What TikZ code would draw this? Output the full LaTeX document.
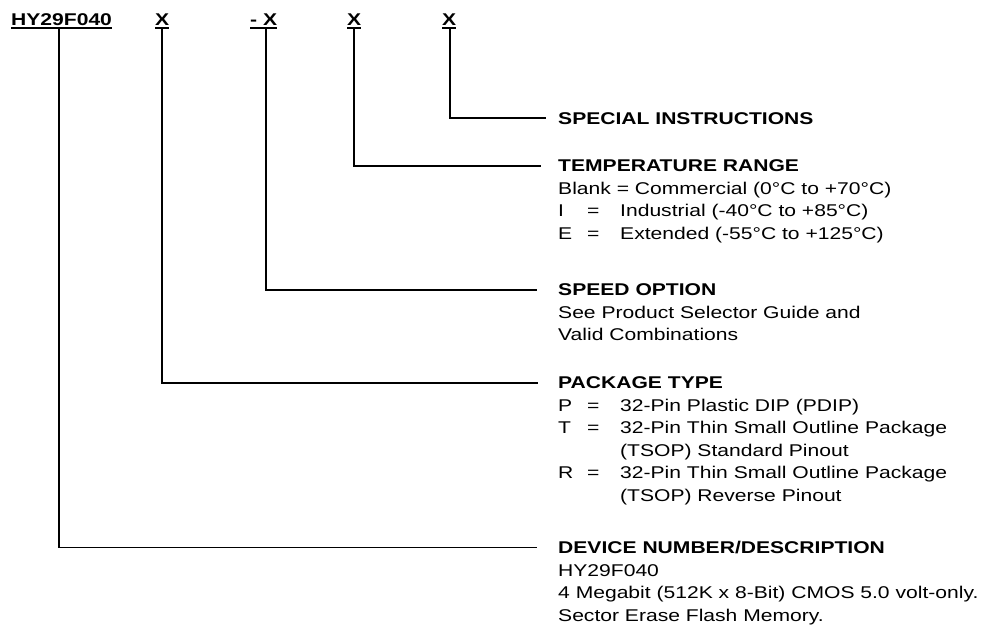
\documentclass[tikz,border=0pt]{standalone}
\usepackage{fontspec}
\setmainfont{Liberation Sans}[FakeStretch=1.24]
\begin{document}
\begin{tikzpicture}[x=1pt,y=-1pt,
  lbl/.style={anchor=base west,inner sep=0pt,font=\fontsize{17}{20}\selectfont\bfseries},
  hd/.style={anchor=base west,inner sep=0pt,font=\fontsize{17}{20}\selectfont\bfseries},
  bd/.style={anchor=base west,inner sep=0pt,font=\fontsize{17}{20}\selectfont},
  conn/.style={line width=1.8pt},
  ul/.style={line width=1.8pt}]
\useasboundingbox (0,0) rectangle (991,640);
% top code
\node[lbl] (hy) at (11,25) {HY29F040};
\node[lbl] (xa) at (155,25) {X};
\node[lbl] (xb) at (250,25) {- X};
\node[lbl] (xc) at (347,25) {X};
\node[lbl] (xd) at (442,25) {X};
\foreach \n in {hy,xa,xb,xc,xd}
  \draw[ul] ([yshift=-3pt]\n.base west) -- ([yshift=-3pt]\n.base east);
% headings
\node[hd] (sp) at (558,124) {SPECIAL INSTRUCTIONS};
\node[hd] (tr) at (558,171.5) {TEMPERATURE RANGE};
\node[hd] (so) at (558,295.5) {SPEED OPTION};
\node[hd] (pt) at (558,388.5) {PACKAGE TYPE};
\node[hd] (dn) at (558,553.5) {DEVICE NUMBER/DESCRIPTION};
% temperature body
\node[bd] (t1) at (558,194) {Blank = Commercial (0°C to +70°C)};
\node[bd] (t2) at (558,216.5) {\makebox[29pt][l]{I}\makebox[33pt][l]{=}Industrial (-40°C to +85°C)};
\node[bd] (t3) at (558,239) {\makebox[29pt][l]{E}\makebox[33pt][l]{=}Extended (-55°C to +125°C)};
% speed body
\node[bd] (s1) at (558,318) {See Product Selector Guide and};
\node[bd] (s2) at (558,340.5) {Valid Combinations};
% package body
\node[bd] (p1) at (558,411) {\makebox[29pt][l]{P}\makebox[33pt][l]{=}32-Pin Plastic DIP (PDIP)};
\node[bd] (p2) at (558,433.5) {\makebox[29pt][l]{T}\makebox[33pt][l]{=}32-Pin Thin Small Outline Package};
\node[bd] (p3) at (620,456) {(TSOP) Standard Pinout};
\node[bd] (p4) at (558,478.5) {\makebox[29pt][l]{R}\makebox[33pt][l]{=}32-Pin Thin Small Outline Package};
\node[bd] (p5) at (620,501) {(TSOP) Reverse Pinout};
% device body
\node[bd] (d1) at (558,576) {HY29F040};
\node[bd] (d2) at (558,598.5) {4 Megabit (512K x 8-Bit) CMOS 5.0 volt-only.};
\node[bd] (d3) at (558,621) {Sector Erase Flash Memory.};
% connectors
\draw[conn] ([xshift=1pt,yshift=-3pt]xd.base) |- ([xshift=-12pt]sp.west);
\draw[conn] ([yshift=-3pt]xc.base) |- ([xshift=-17pt]tr.west);
\draw[conn] ([xshift=2.5pt,yshift=-3pt]xb.base) |- ([xshift=-21pt]so.west);
\draw[conn] ([yshift=-3pt]xa.base) |- ([xshift=-20pt]pt.west);
\draw[conn] ([xshift=-2.5pt,yshift=-3pt]hy.base) |- ([xshift=-21pt]dn.west);
\end{tikzpicture}
\end{document}
